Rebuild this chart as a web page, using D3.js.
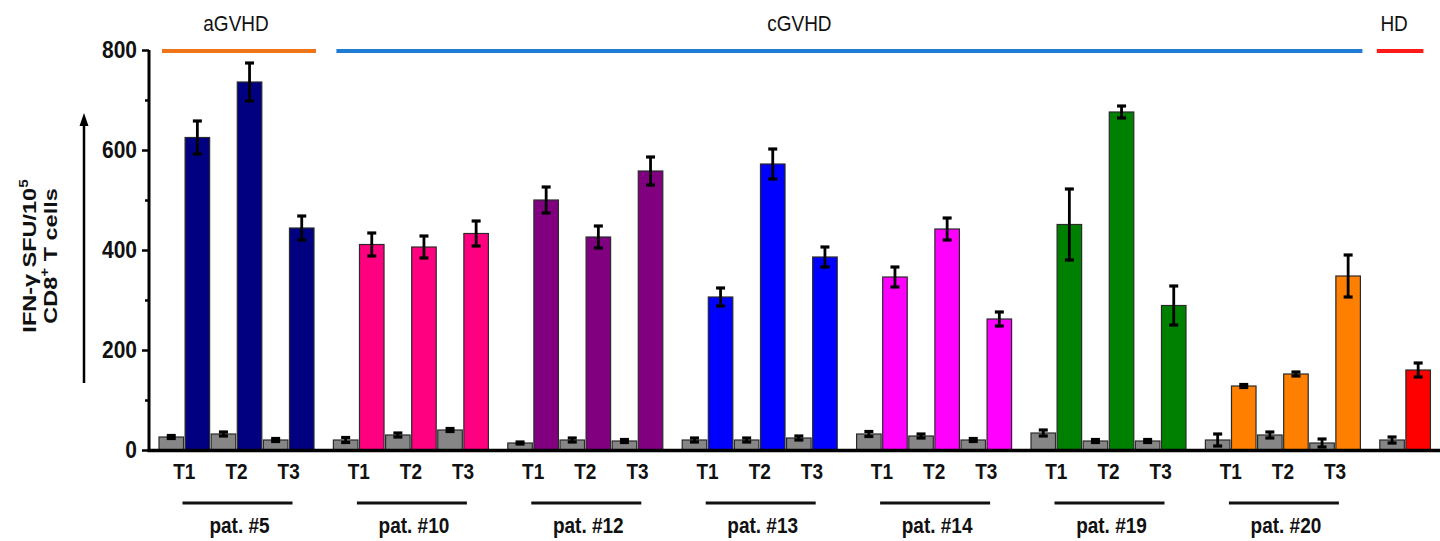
<!DOCTYPE html>
<html>
<head>
<meta charset="utf-8">
<script src="https://cdn.jsdelivr.net/npm/d3@7/dist/d3.min.js"></script>
<style>
  html, body { margin: 0; padding: 0; background: #fff; }
  svg { display: block; }
  text { font-family: "Liberation Sans", Arial, Helvetica, sans-serif; fill: #111; }
</style>
</head>
<body>
<svg id="chart" width="1440" height="541"></svg>
<script>
// IFN-γ ELISpot: control (grey) vs. stimulated (coloured) per patient and time point
const groups = ["pat. #5", "pat. #10", "pat. #12", "pat. #13", "pat. #14", "pat. #19", "pat. #20", "HD"];
const timepoints = ["T1", "T2", "T3"];
const groupColors = ["#000080", "#ff0080", "#800080", "#0000ff", "#ff00ff", "#008000", "#ff8000", "#ff0000"];

const controlValues = [[26, 32, 20], [20, 30, 40], [14, 20, 18], [20, 20, 24], [32, 28, 20], [34, 18, 18], [20, 30, 14], [20]];
const controlErrors = [[3, 4, 3], [5, 4, 3], [2, 4, 3], [4, 4, 4], [5, 4, 3], [6, 3, 3], [12, 6, 8], [6]];
const stimValues = [[625, 736, 444], [411, 406, 433], [500, 426, 558], [306, 572, 386], [346, 442, 262], [451, 676, 289], [128, 152, 348], [160]];
const stimErrors = [[33, 38, 24], [23, 22, 25], [26, 22, 28], [18, 30, 20], [20, 22, 14], [71, 12, 39], [3, 4, 42], [14]];

const cohortNames = ["aGVHD", "cGVHD", "HD"];
const cohortMembers = [["pat. #5"], ["pat. #10", "pat. #12", "pat. #13", "pat. #14", "pat. #19", "pat. #20"], ["HD"]];
const cohortColors = ["#ef7417", "#1f7bd4", "#ff1a1a"];

const yMajorTicks = [0, 200, 400, 600, 800];
const yMinorTicks = [100, 300, 500, 700];

// ---- layout ----
const svg = d3.select("#chart");
const textStretch = 1.18;           // glyphs are drawn slightly taller than wide
const xAxisX = 149;
const groupStart = 159, groupStep = 174.4, groupWidth = 155;

const y = d3.scaleLinear().domain([0, 800]).range([450, 50]);

const xGroup = d3.scaleBand()
  .domain(groups)
  .range([groupStart, groupStart + (groups.length - 1) * groupStep + groupWidth])
  .paddingInner((groupStep - groupWidth) / groupStep)
  .paddingOuter(0);

const xSlot = d3.scaleBand().domain(d3.range(6)).range([0, groupWidth]).paddingInner(0.06);

// flatten bars
const bars = [];
groups.forEach((g, gi) => {
  controlValues[gi].forEach((v, ti) => {
    bars.push({ g, gi, ti, kind: "ctrl", value: v, err: controlErrors[gi][ti], slot: ti * 2 });
    bars.push({ g, gi, ti, kind: "stim", value: stimValues[gi][ti], err: stimErrors[gi][ti], slot: ti * 2 + 1 });
  });
});
const barX = d => xGroup(d.g) + xSlot(d.slot);

// ---- bars ----
svg.append("g").selectAll("rect").data(bars).join("rect")
  .attr("x", barX)
  .attr("y", d => y(d.value))
  .attr("width", xSlot.bandwidth())
  .attr("height", d => y(0) - y(d.value))
  .attr("fill", d => d.kind === "ctrl" ? "#868686" : groupColors[d.gi])
  .attr("stroke", "#2a2a2a")
  .attr("stroke-width", 1.2);

// ---- error bars ----
const eb = svg.append("g").attr("stroke", "#000").attr("fill", "none");
bars.forEach(d => {
  const cx = barX(d) + xSlot.bandwidth() / 2;
  const y1 = y(d.value + d.err), y2 = y(Math.max(0, d.value - d.err));
  eb.append("line").attr("x1", cx).attr("x2", cx).attr("y1", y1).attr("y2", y2).attr("stroke-width", 2.8);
  [y1, y2].forEach(yy => eb.append("line")
    .attr("x1", cx - 4.5).attr("x2", cx + 4.5).attr("y1", yy).attr("y2", yy).attr("stroke-width", 3.2));
});

// ---- axes ----
const yAxis = svg.append("g").attr("transform", `translate(${xAxisX},0)`)
  .call(d3.axisLeft(y).tickValues(yMajorTicks).tickSize(7).tickPadding(5).tickFormat(d3.format("d")));
yAxis.select(".domain").attr("stroke", "#000").attr("stroke-width", 3).attr("d", `M0,${y(800)}V${y(0)}`);
yAxis.selectAll(".tick line").attr("stroke", "#000").attr("stroke-width", 2.5);
yAxis.selectAll(".tick text")
  .attr("font-size", 21).attr("font-weight", "bold").attr("fill", "#111")
  .attr("dy", null).attr("y", 0)
  .attr("transform", `translate(0,7.5) scale(1,${textStretch})`);

const yMinor = svg.append("g").attr("transform", `translate(${xAxisX},0)`)
  .call(d3.axisLeft(y).tickValues(yMinorTicks).tickSize(4).tickFormat(""));
yMinor.select(".domain").remove();
yMinor.selectAll(".tick line").attr("stroke", "#000").attr("stroke-width", 2.5);

// baseline
svg.append("line").attr("x1", xAxisX - 1.5).attr("x2", 1440).attr("y1", y(0) + 0.5).attr("y2", y(0) + 0.5)
  .attr("stroke", "#000").attr("stroke-width", 3.5);

// ---- time point labels and patient brackets ----
const patients = groups.filter(g => g !== "HD");
const tl = svg.append("g");
patients.forEach(g => {
  const gi = groups.indexOf(g);
  controlValues[gi].forEach((_, ti) => {
    const cx = xGroup(g) + xSlot(ti * 2 + 1) - (xSlot.step() - xSlot.bandwidth()) / 2;
    tl.append("text")
      .attr("transform", `translate(${cx},479) scale(1,${textStretch})`)
      .attr("text-anchor", "middle").attr("font-size", 19).attr("font-weight", "bold")
      .text(timepoints[ti]);
  });
  const gc = xGroup(g) + groupWidth / 2;
  tl.append("line").attr("x1", gc - 54).attr("x2", gc + 56).attr("y1", 503).attr("y2", 503)
    .attr("stroke", "#111").attr("stroke-width", 3.2);
  tl.append("text")
    .attr("transform", `translate(${gc + 3},533) scale(1,${textStretch})`)
    .attr("text-anchor", "middle").attr("font-size", 19).attr("font-weight", "bold")
    .text(g);
});

// ---- cohort bands on top ----
const labelShift = { aGVHD: -3, cGVHD: -50, HD: -6 };
const topG = svg.append("g");
cohortNames.forEach((c, ci) => {
  const members = cohortMembers[ci];
  const first = members[0], last = members[members.length - 1];
  const nLast = controlValues[groups.indexOf(last)].length;
  const x1 = xGroup(first) + (c === "HD" ? -3 : 3);
  const x2 = xGroup(last) + xSlot(nLast * 2 - 1) + xSlot.bandwidth() + (c === "HD" ? -7 : 2);
  topG.append("line").attr("x1", x1).attr("x2", x2).attr("y1", 51).attr("y2", 51)
    .attr("stroke", cohortColors[ci]).attr("stroke-width", 4);
  topG.append("text")
    .attr("transform", `translate(${(x1 + x2) / 2 + labelShift[c]},31) scale(1,${textStretch})`)
    .attr("text-anchor", "middle").attr("font-size", 19)
    .text(c);
});

// ---- y axis title with arrow ----
const titleStretch = 1.27;
const title = svg.append("g").attr("font-weight", "bold");
const t1 = title.append("text")
  .attr("transform", `translate(36,256) scale(1,${titleStretch}) rotate(-90)`)
  .attr("text-anchor", "middle").attr("font-size", 18.5).attr("font-weight", "bold");
t1.append("tspan").text("IFN-γ SFU/10");
t1.append("tspan").attr("font-size", 12).attr("dy", -8).text("5");
const t2 = title.append("text")
  .attr("transform", `translate(57,256) scale(1,${titleStretch}) rotate(-90)`)
  .attr("text-anchor", "middle").attr("font-size", 18.5).attr("font-weight", "bold");
t2.append("tspan").text("CD8");
t2.append("tspan").attr("font-size", 12).attr("dy", -8).text("+");
t2.append("tspan").attr("dy", 8).text(" T cells");

svg.append("line").attr("x1", 84).attr("x2", 84).attr("y1", 383).attr("y2", 124)
  .attr("stroke", "#000").attr("stroke-width", 2.5);
svg.append("path").attr("d", "M84,113 L79.5,126 L88.5,126 Z").attr("fill", "#000");
</script>
</body>
</html>
